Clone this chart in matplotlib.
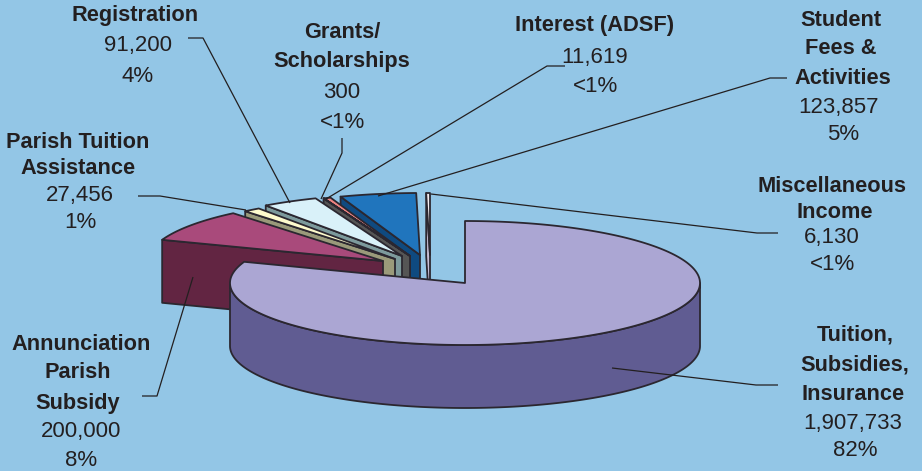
import numpy as np
import matplotlib
matplotlib.use("Agg")
import matplotlib.pyplot as plt
from matplotlib.patches import Polygon

plt.rcParams['font.family'] = ['Liberation Sans', 'DejaVu Sans']

# Data (clockwise from 12 o'clock, beginning with the large slice)
categories = ["Tuition, Subsidies, Insurance", "Annunciation Parish Subsidy",
              "Parish Tuition Assistance", "Registration", "Grants/Scholarships",
              "Interest (ADSF)", "Student Fees & Activities", "Miscellaneous Income"]
values = [1907733, 200000, 27456, 91200, 300, 11619, 123857, 6130]
percent_labels = ["82%", "8%", "1%", "4%", "<1%", "<1%", "5%", "<1%"]

top_colors = ["#aba6d3", "#a94a7b", "#fefbcd", "#d9f1f9", "#f4f4f4", "#ef8481", "#2075bd", "#f6eef2"]
side_colors = ["#605c92", "#622542", "#9a9a7a", "#7d9a9c", "#555555", "#4b0f50", "#0f4a80", "#c9bfd6"]
# apex displacement of each slice from the pie centre, in pixels
offsets = [(0, 0), (-82, -22), (-70, -24), (-63, -27), (-55, -27), (-55, -27), (-45, -28), (-35, -28)]

BG = "#93c6e6"
INK = "#231f20"
CX, CY, RX, RY, DEPTH = 465, 283, 235, 62, 63

fig = plt.figure(figsize=(9.22, 4.71), dpi=100, facecolor=BG)
ax = fig.add_axes([0, 0, 1, 1])
ax.set_xlim(0, 922)
ax.set_ylim(471, 0)
ax.axis("off")

fractions = np.array(values, dtype=float) / sum(values)
edges = np.concatenate([[0], np.cumsum(fractions)]) * 2 * np.pi


def pt(theta, apex):
    return apex[0] + RX * np.sin(theta), apex[1] - RY * np.cos(theta)


EDGE = dict(edgecolor="#2b2730", linewidth=1.3, joinstyle="round")


def draw_slice(i, z):
    a0, a1 = edges[i], edges[i + 1]
    apex = (CX + offsets[i][0], CY + offsets[i][1])
    th = np.linspace(a0, a1, max(3, int((a1 - a0) * 90)))
    ex, ey = pt(th, apex)
    if i > 0:
        wall = [(ex[0], ey[0]), apex, (apex[0], apex[1] + DEPTH), (ex[0], ey[0] + DEPTH)]
        ax.add_patch(Polygon(wall, closed=True, facecolor=side_colors[i], zorder=z, **EDGE))
    else:
        t = np.linspace(np.pi / 2, 3 * np.pi / 2, 200)
        x, y = pt(t, apex)
        rim = list(zip(x, y)) + list(zip(x[::-1], y[::-1] + DEPTH))
        ax.add_patch(Polygon(rim, closed=True, facecolor=side_colors[i], zorder=z, **EDGE))
    top = [apex] + list(zip(ex, ey))
    ax.add_patch(Polygon(top, closed=True, facecolor=top_colors[i], zorder=z + 0.5, **EDGE))


order = [7, 6, 5, 4, 3, 2, 1, 0]
for z, i in enumerate(order):
    draw_slice(i, 2 + z)

# Leader lines
leaders = [
    [(188, 38), (203, 38), (290, 203)],
    [(342, 138), (342, 153), (321, 199)],
    [(565, 66), (547, 66), (326, 199)],
    [(787, 78), (770, 78), (378, 196)],
    [(778, 233), (757, 233), (431, 194)],
    [(778, 385), (756, 385), (612, 368)],
    [(142, 396), (157, 396), (193, 277)],
    [(138, 196), (160, 196), (246, 210)],
]
for ln in leaders:
    xs, ys = zip(*ln)
    ax.plot(xs, ys, color=INK, lw=0.9, zorder=30, solid_capstyle="butt")


def label(bold, regular, ys, xb, xr):
    n = len(bold)
    for k, s in enumerate(bold):
        ax.text(xb[k], ys[k], s, ha="center", va="center", fontsize=15.7,
                fontweight="bold", color=INK, zorder=40)
    for k, s in enumerate(regular):
        ax.text(xr[k], ys[n + k], s, ha="center", va="center", fontsize=16,
                color=INK, zorder=40)


label(["Registration"], [f"{values[3]:,}", percent_labels[3]],
      [16, 45, 76], [135], [138, 138])
label(["Grants/", "Scholarships"], [f"{values[4]:,}", percent_labels[4]],
      [33, 62, 92, 122], [342, 342], [342, 342])
label(["Interest (ADSF)"], [f"{values[5]:,}", percent_labels[5]],
      [25, 57, 87], [595], [595, 595])
label(["Student", "Fees &", "Activities"], [f"{values[6]:,}", percent_labels[6]],
      [20, 49, 78, 108, 135], [841, 841, 843], [838, 843])
label(["Parish Tuition", "Assistance"], [f"{values[2]:,}", percent_labels[2]],
      [143, 169, 196, 222], [78, 78], [80, 80])
label(["Miscellaneous", "Income"], [f"{values[7]:,}", percent_labels[7]],
      [186, 212, 238, 265], [832, 835], [832, 832])
label(["Annunciation", "Parish", "Subsidy"], [f"{values[1]:,}", percent_labels[1]],
      [344, 373, 403, 432, 460], [81, 78, 78], [81, 81])
label(["Tuition,", "Subsidies,", "Insurance"], [f"{values[0]:,}", percent_labels[0]],
      [335, 365, 394, 424, 451], [855, 855, 853], [853, 855])

fig.savefig("out.png", dpi=100, facecolor=BG)
